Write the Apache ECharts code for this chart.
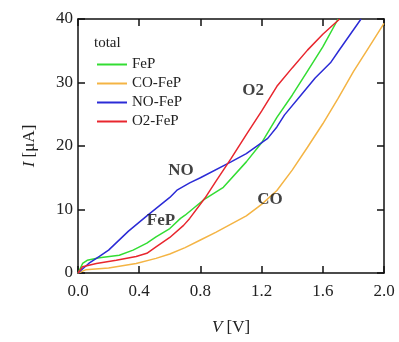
<!DOCTYPE html>
<html><head><meta charset="utf-8">
<script src="https://cdn.jsdelivr.net/npm/echarts@6/dist/echarts.min.js"></script>
<style>html,body{margin:0;padding:0;background:#fff}#c{width:399px;height:342px}</style>
</head><body><div id="c"></div>
<script>
const seriesNames = ['FeP', 'CO-FeP', 'NO-FeP', 'O2-FeP'];
const seriesColors = ['#33dd33', '#f4b444', '#2b2bd6', '#e8262e'];

const fepV = [0,0.03,0.06,0.14,0.27,0.36,0.45,0.51,0.6,0.67,0.7,0.82,0.95,1.1,1.2,1.3,1.4,1.5,1.6,1.7];
const fepI = [0,1.5,2.0,2.4,2.8,3.6,4.7,5.7,7.0,8.6,9.1,11.5,13.5,17.5,20.5,24.5,28.0,31.8,35.6,40];

const coV = [0,0.05,0.2,0.38,0.51,0.6,0.7,0.8,0.9,1.0,1.1,1.2,1.3,1.4,1.5,1.6,1.7,1.8,1.9,2.0];
const coI = [0,0.5,0.8,1.5,2.3,3.0,4.0,5.2,6.4,7.7,9.0,10.8,13.0,16.2,19.8,23.5,27.5,31.7,35.5,39.3];

const noV = [0,0.07,0.14,0.2,0.33,0.45,0.6,0.65,0.73,0.8,1.0,1.1,1.24,1.3,1.35,1.45,1.55,1.65,1.71,1.85];
const noI = [0,1.5,2.6,3.6,6.6,9.0,11.9,13.1,14.2,15.0,17.5,18.8,21.2,23.0,24.9,27.8,30.7,33.1,35.2,40];

const o2V = [0,0.03,0.12,0.25,0.38,0.45,0.51,0.6,0.69,0.73,0.83,0.9,1.0,1.1,1.2,1.3,1.4,1.5,1.6,1.71];
const o2I = [0,1.0,1.5,2.0,2.6,3.1,4.1,5.6,7.5,8.6,11.8,14.4,18.0,21.8,25.5,29.4,32.3,35.1,37.6,40];

const xTicks = ['0.0','0.4','0.8','1.2','1.6','2.0'];
const yTicks = ['0','10','20','30','40'];

const annoText = ['O2', 'NO', 'FeP', 'CO'];
const annoV = [1.144, 0.673, 0.542, 1.255];
const annoI = [28.8, 16.2, 8.2, 11.5];

const FONT = "'Liberation Serif', 'Times New Roman', serif";
const zip = (a, b) => a.map((v, i) => [v, b[i]]);
const allV = [fepV, coV, noV, o2V];
const allI = [fepI, coI, noI, o2I];

const chart = echarts.init(document.getElementById('c'), null, {renderer: 'canvas'});
const axisLine = {show: true, onZero: false, lineStyle: {color: '#111', width: 1.5}};
const tick = {show: true, inside: true, length: 7, lineStyle: {color: '#111', width: 1.5}};

const series = seriesNames.map((n, k) => ({
  name: n, type: 'line', data: zip(allV[k], allI[k]), showSymbol: false, symbol: 'none',
  lineStyle: {color: seriesColors[k], width: 1.5}, itemStyle: {color: seriesColors[k]},
  z: 3, animation: false
}));
series.push({
  name: 'annotations', type: 'scatter', symbolSize: 0,
  data: annoText.map((t, i) => [annoV[i], annoI[i], t]),
  label: {show: true, position: 'inside', formatter: p => p.data[2],
    fontFamily: FONT, fontWeight: 'bold', fontSize: 17, color: '#111'},
  z: 5, animation: false, silent: true
});

chart.setOption({
  animation: false,
  grid: {left: 78, right: 15, top: 19, bottom: 69},
  legend: {
    data: seriesNames, orient: 'vertical', left: 92, top: 52,
    icon: 'rect', itemWidth: 30, itemHeight: 2, itemGap: 4,
    textStyle: {fontFamily: FONT, fontSize: 15, color: '#222', lineHeight: 15}
  },
  graphic: [{type: 'text', left: 94, top: 36, style: {text: 'total', font: "15px " + FONT, fill: '#222'}}],
  xAxis: [{
    type: 'value', min: 0, max: 2, interval: 0.4,
    axisLine, axisTick: tick, splitLine: {show: false},
    axisLabel: {formatter: v => xTicks[Math.round(v / 0.4)], fontFamily: FONT, fontSize: 17, color: '#222', margin: 10},
    name: '{i|V} [V]', nameLocation: 'middle', nameGap: 46,
    nameTextStyle: {fontFamily: FONT, fontSize: 17, color: '#222', rich: {i: {fontStyle: 'italic', fontFamily: FONT, fontSize: 17, color: '#222'}}}
  }, {
    type: 'value', position: 'top', min: 0, max: 2, interval: 0.4,
    axisLine, axisTick: tick, axisLabel: {show: false}, splitLine: {show: false}
  }],
  yAxis: [{
    type: 'value', min: 0, max: 40, interval: 10,
    axisLine, axisTick: tick, splitLine: {show: false},
    axisLabel: {formatter: v => yTicks[Math.round(v / 10)], fontFamily: FONT, fontSize: 17, color: '#222', margin: 5},
    name: '{i|I} [μA]', nameLocation: 'middle', nameGap: 40, nameRotate: 90,
    nameTextStyle: {fontFamily: FONT, fontSize: 17, color: '#222', rich: {i: {fontStyle: 'italic', fontFamily: FONT, fontSize: 17, color: '#222'}}}
  }, {
    type: 'value', position: 'right', min: 0, max: 40, interval: 10,
    axisLine, axisTick: tick, axisLabel: {show: false}, splitLine: {show: false}
  }],
  series
});
</script></body></html>
